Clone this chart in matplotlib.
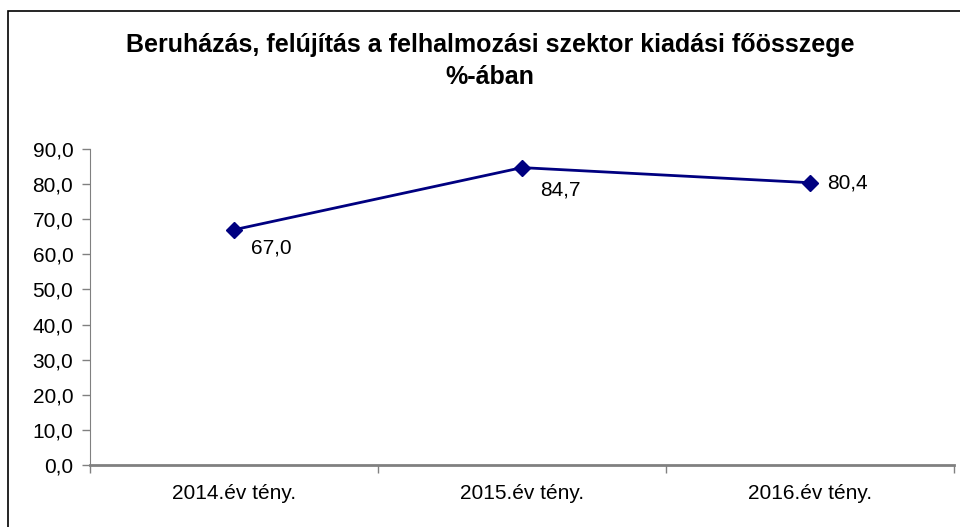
import matplotlib
matplotlib.use("Agg")
import matplotlib.pyplot as plt
from matplotlib.patches import Rectangle

# Chart data
categories = ["2014.év tény.", "2015.év tény.", "2016.év tény."]
values = [67.0, 84.7, 80.4]
y_ticks = [0, 10, 20, 30, 40, 50, 60, 70, 80, 90]

plt.rcParams["font.family"] = ["Liberation Sans", "DejaVu Sans"]

fig = plt.figure(figsize=(9.6, 5.27), dpi=100)

# Outer chart border (cut off at right and bottom like in the source)
fig.patches.append(Rectangle((8 / 960, -0.1), 1.2, 1 - 11 / 527 + 0.1,
                             transform=fig.transFigure, fill=False,
                             edgecolor="black", linewidth=1.2))

ax = fig.add_axes([90 / 960, 1 - 465 / 527, 864 / 960, 316 / 527])

x = list(range(len(categories)))
ax.plot(x, values, color="#000080", linewidth=2, marker="D",
        markersize=8, markerfacecolor="#000080", markeredgecolor="#000080")

# Data labels
offsets = [(12, -13), (13, -16), (12, 0)]
for xi, v, off in zip(x, values, offsets):
    ax.annotate(f"{v:.1f}".replace(".", ","), (xi, v), xytext=off,
                textcoords="offset points", ha="left", va="center",
                fontsize=15)

ax.set_xlim(-0.5, len(categories) - 0.5)
ax.set_ylim(0, 90)
ax.set_yticks(y_ticks)
ax.set_yticklabels([f"{t:.1f}".replace(".", ",") for t in y_ticks], fontsize=15)
ax.set_xticks(x)
ax.set_xticklabels(categories, fontsize=15)
ax.tick_params(axis="x", length=0, pad=14)
ax.set_xticks([i - 0.5 for i in range(len(categories) + 1)], minor=True)
ax.tick_params(axis="x", which="minor", length=6, color="#808080", width=1)
ax.tick_params(axis="y", length=6, color="#808080", width=1, pad=6)

for side in ["top", "right"]:
    ax.spines[side].set_visible(False)
ax.spines["left"].set_color("#808080")
ax.spines["bottom"].set_color("#808080")
ax.spines["bottom"].set_linewidth(2)

fig.text(490 / 960, 1 - 45 / 527,
         "Beruházás, felújítás a felhalmozási szektor kiadási főösszege",
         ha="center", va="center", fontsize=18, fontweight="bold")
fig.text(490 / 960, 1 - 77 / 527, "%-ában",
         ha="center", va="center", fontsize=18, fontweight="bold")

fig.savefig("out.png", dpi=100)
